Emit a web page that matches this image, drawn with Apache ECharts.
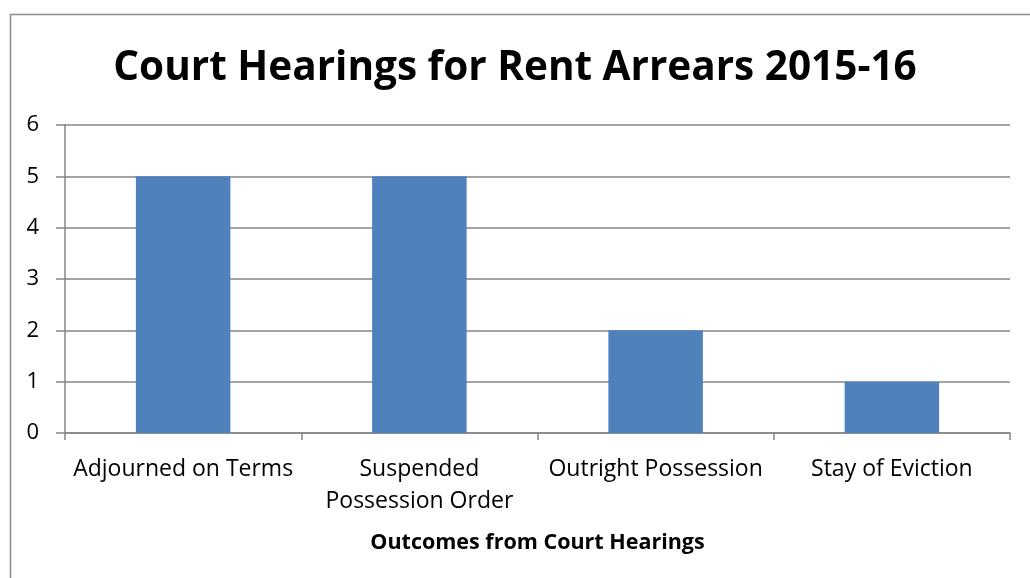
<!DOCTYPE html>
<html>
<head>
<meta charset="utf-8">
<script src="https://cdn.jsdelivr.net/npm/echarts@6/dist/echarts.min.js"></script>
<style>html,body{margin:0;padding:0;background:#fff}#c{width:1030px;height:578px}</style>
</head>
<body>
<div id="c"></div>
<script>
const categories = ['Adjourned on Terms', 'Suspended\nPossession Order', 'Outright Possession', 'Stay of Eviction'];
const values = [5, 5, 2, 1];
const titleText = 'Court Hearings for Rent Arrears 2015-16';
const xAxisName = 'Outcomes from Court Hearings';

const chart = echarts.init(document.getElementById('c'), null, {renderer: 'canvas'});
const font = '"Open Sans", "Liberation Sans", sans-serif';
chart.setOption({
  animation: false,
  graphic: [{
    type: 'rect', left: 8, top: 12, z: 0,
    shape: {x: 0, y: 0, width: 1200, height: 800},
    style: {fill: 'none', stroke: '#8c8c8c', lineWidth: 1.5}
  }],
  title: {
    text: titleText, left: 'center', top: 43,
    textStyle: {fontFamily: font, fontWeight: 'bold', fontSize: 40.5, color: '#000'}
  },
  grid: {left: 65, right: 20, top: 125, bottom: 145},
  xAxis: {
    type: 'category', data: categories,
    name: xAxisName, nameLocation: 'middle', nameGap: 99,
    nameTextStyle: {fontFamily: font, fontWeight: 'bold', fontSize: 21.5, color: '#000'},
    axisLine: {lineStyle: {color: '#868686', width: 1.5}},
    axisTick: {show: true, length: 7, lineStyle: {color: '#868686', width: 1.5}},
    axisLabel: {fontFamily: font, fontSize: 23, color: '#000', margin: 20, lineHeight: 32, interval: 0}
  },
  yAxis: {
    type: 'value', min: 0, max: 6, interval: 1,
    axisLine: {show: true, lineStyle: {color: '#868686', width: 1.5}},
    axisTick: {show: true, length: 9, lineStyle: {color: '#868686', width: 1.5}},
    splitLine: {lineStyle: {color: '#868686', width: 1.5}},
    axisLabel: {fontFamily: font, fontSize: 22, color: '#000', margin: 26}
  },
  series: [{
    type: 'bar', data: values, barWidth: '40%',
    itemStyle: {color: '#4F81BD'}
  }]
});
</script>
</body>
</html>
